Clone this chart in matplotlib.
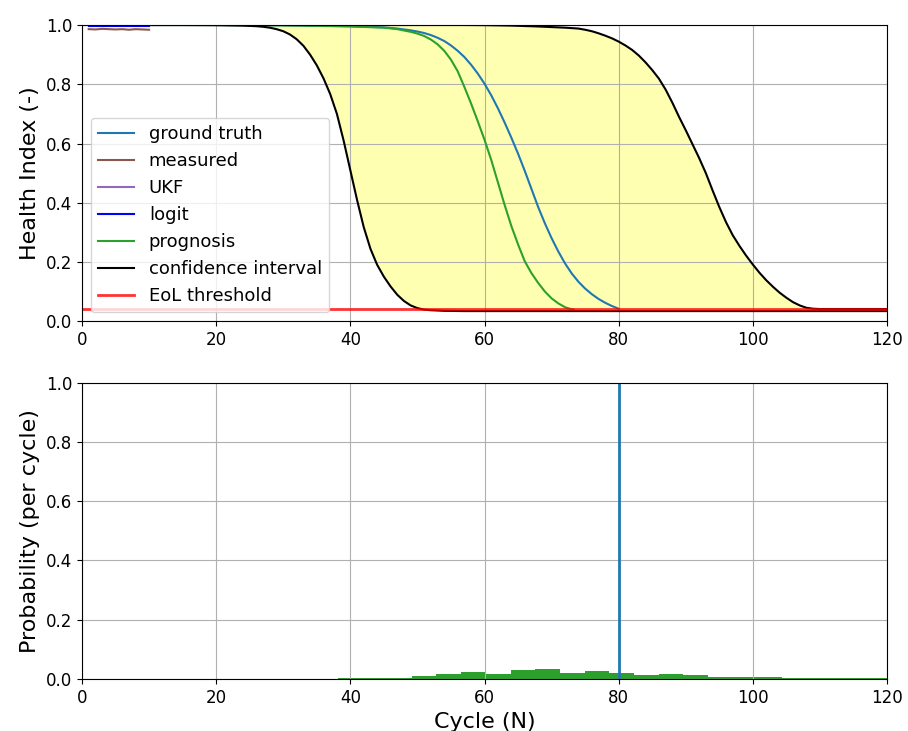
import numpy as np
from matplotlib import pyplot as plt

# ---- data ----
gt_x = [0, 10, 20, 30, 40, 45, 47, 48, 49, 50, 51, 52, 53, 54, 55, 56, 57, 58, 59, 60, 61,
        62, 63, 64, 65, 66, 67, 68, 69, 70, 71, 72, 73, 74, 75, 76, 77, 78, 79, 80]
gt_y = [1.0, 1.0, 1.0, 0.999, 0.996, 0.992, 0.988, 0.985, 0.982, 0.978, 0.973, 0.966,
        0.957, 0.946, 0.931, 0.913, 0.892, 0.866, 0.836, 0.802, 0.763, 0.719, 0.671, 0.62,
        0.566, 0.508, 0.447, 0.386, 0.331, 0.281, 0.236, 0.196, 0.162, 0.134, 0.111, 0.092,
        0.076, 0.063, 0.052, 0.043]

meas_x = [1, 2, 3, 4, 5, 6, 7, 8, 9, 10]
meas_y = [0.986, 0.985, 0.987, 0.986, 0.985, 0.986, 0.984, 0.986, 0.985, 0.984]
ukf_y = [0.999, 0.999, 0.999, 0.999, 0.999, 0.999, 0.999, 0.999, 0.999, 0.999]
logit_y = [0.998, 0.998, 0.998, 0.998, 0.998, 0.998, 0.998, 0.998, 0.998, 0.998]

prog_x = [10, 20, 30, 40, 45, 47, 49, 50, 51, 52, 53, 54, 55, 56, 57, 58, 59, 60, 61, 62,
          63, 64, 65, 66, 67, 68, 69, 70, 71, 72, 73, 73.3]
prog_y = [1.0, 1.0, 0.999, 0.995, 0.991, 0.986, 0.977, 0.971, 0.963, 0.951, 0.935, 0.913,
          0.883, 0.844, 0.791, 0.735, 0.675, 0.613, 0.545, 0.469, 0.393, 0.322, 0.26, 0.203,
          0.163, 0.13, 0.101, 0.078, 0.061, 0.048, 0.041, 0.04]

ci_x = [10, 15, 20, 24, 26, 27, 28, 29, 30, 31, 32, 33, 34, 35, 36, 37, 38, 39, 40, 41, 42,
        43, 44, 45, 46, 47, 48, 49, 50, 51, 52, 54, 57, 60, 64, 68, 70, 72, 74, 75, 76, 77,
        78, 79, 80, 81, 82, 83, 84, 85, 86, 87, 88, 89, 90, 91, 92, 93, 94, 95, 96, 97, 98,
        99, 100, 101, 102, 103, 104, 105, 106, 107, 108, 109, 110, 115, 120]
ci_lo = [1.0, 1.0, 0.9995, 0.998, 0.996, 0.994, 0.991, 0.986, 0.979, 0.968, 0.952, 0.93,
         0.9, 0.864, 0.82, 0.767, 0.7, 0.61, 0.51, 0.41, 0.318, 0.245, 0.191, 0.151, 0.118,
         0.09, 0.069, 0.054, 0.045, 0.04, 0.038, 0.036, 0.035, 0.035, 0.035, 0.035, 0.035,
         0.035, 0.035, 0.035, 0.035, 0.035, 0.035, 0.035, 0.035, 0.035, 0.035, 0.035, 0.035,
         0.035, 0.035, 0.035, 0.035, 0.035, 0.035, 0.035, 0.035, 0.035, 0.035, 0.035, 0.035,
         0.035, 0.035, 0.035, 0.035, 0.035, 0.035, 0.035, 0.035, 0.035, 0.035, 0.035, 0.035,
         0.035, 0.035, 0.035, 0.035]
ci_hi = [1.0, 1.0, 1.0, 1.0, 1.0, 1.0, 1.0, 1.0, 1.0, 1.0, 1.0, 1.0, 1.0, 1.0, 1.0, 1.0,
         1.0, 1.0, 1.0, 1.0, 1.0, 1.0, 1.0, 1.0, 1.0, 1.0, 1.0, 1.0, 1.0, 1.0, 1.0, 1.0, 1.0,
         0.9995, 0.998, 0.995, 0.993, 0.991, 0.988, 0.984, 0.979, 0.972, 0.964, 0.955, 0.944,
         0.931, 0.916, 0.897, 0.874, 0.848, 0.819, 0.782, 0.738, 0.69, 0.645, 0.598, 0.551,
         0.5, 0.442, 0.386, 0.335, 0.291, 0.255, 0.222, 0.192, 0.164, 0.139, 0.117, 0.097,
         0.08, 0.065, 0.054, 0.046, 0.043, 0.042, 0.042, 0.042]

eol = 0.043
true_eol = 80

hist_edges = [38.12, 41.8, 45.48, 49.16, 52.84, 56.52, 60.2, 63.88, 67.56, 71.24, 74.92,
              78.6, 82.28, 85.96, 89.64, 93.32, 97.0, 100.68, 104.36, 108.04, 111.72,
              115.4, 119.08, 122.76]
hist_p = [0.005, 0.005, 0.005, 0.009, 0.017, 0.0225, 0.018, 0.029, 0.034, 0.021, 0.026,
          0.021, 0.0135, 0.018, 0.0135, 0.008, 0.008, 0.008, 0.004, 0.004, 0.004, 0.004,
          0.004]

# ---- figure ----
fig, ax = plt.subplots(2, 1, figsize=(9.08, 7.31), dpi=100)
plt.subplots_adjust(left=0.0903, right=0.9769, top=0.9658, bottom=0.0711, hspace=0.206)

ax[0].plot(gt_x, gt_y, color="tab:blue", lw=1.5, label="ground truth")
ax[0].plot(meas_x, meas_y, color="tab:brown", lw=1.5, label="measured")
ax[0].plot(meas_x, ukf_y, color="tab:purple", lw=1.5, label="UKF")
ax[0].plot(meas_x, logit_y, color="blue", lw=1.5, label="logit")
ax[0].plot(prog_x, prog_y, color="tab:green", lw=1.5, label="prognosis")
ax[0].plot(ci_x, ci_lo, color="black", lw=1.5, label="confidence interval")
ax[0].plot(ci_x, ci_hi, color="black", lw=1.5)
ax[0].fill_between(ci_x, ci_lo, ci_hi, color="yellow", alpha=0.3, lw=0)
ax[0].axhline(eol, color="red", lw=2, alpha=0.8, label="EoL threshold")

ax[0].set_xlim(0, 120)
ax[0].set_ylim(0, 1)
ax[0].set_ylabel("Health Index (-)", fontsize=16)
ax[0].legend(loc="lower left", fontsize=13)
ax[0].grid(True)

ax[1].stairs(hist_p, hist_edges, fill=True, color="tab:green")
ax[1].axvline(true_eol, color="tab:blue", lw=2)
ax[1].set_xlim(0, 120)
ax[1].set_ylim(0, 1)
ax[1].set_ylabel("Probability (per cycle)", fontsize=16)
ax[1].set_xlabel("Cycle (N)", fontsize=16)
ax[1].grid(True)

for a in ax:
    a.tick_params(labelsize=12)

plt.savefig("out.png", dpi=100)
